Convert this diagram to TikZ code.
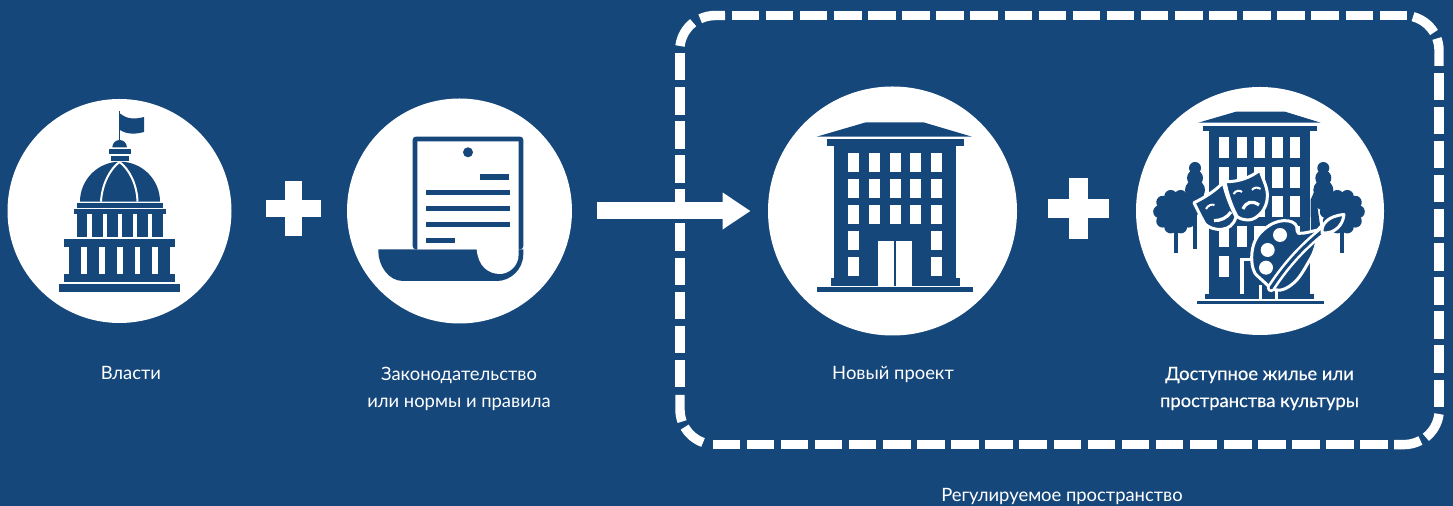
\documentclass[tikz,border=0pt]{standalone}
\usepackage{fontspec}
\setmainfont{Lato}
\usetikzlibrary{arrows.meta}
\definecolor{navy}{HTML}{15477B}

\tikzset{
  disc/.style={circle,fill=white,inner sep=0pt,minimum size=#1},
  lbl/.style={text=white,align=center,font=\fontsize{9.2}{13.5}\selectfont},
  lblb/.style={lbl,font=\fontsize{9.2}{13.5}\selectfont\addfontfeature{FakeBold=0.4}},
  dashline/.style={draw=white,line width=4.7pt},
  dashrun/.style={dashline,dash pattern=on 13.75pt off 3.3pt},
  bigarrow/.style={draw=white,line width=8.5pt,-{Triangle[length=14pt,width=17.5pt]}},
  halo/.style={fill=navy,draw=white,line width=1.5pt,line join=round}
}
\newcommand{\plusmark}[4]{%
  \fill[white] (#1-#3,#2-#4) rectangle (#1+#3,#2+#4);
  \fill[white] (#1-#4,#2-#3) rectangle (#1+#4,#2+#3);}
\newcommand{\roundtree}[2]{%
  \fill[navy] (#1-2,#2+15) rectangle (#1+2,#2+41);
  \fill[navy] (#1,#2) circle (16);
  \foreach \a in {0,36,...,324}
    \fill[navy] ([shift={(\a:16)}]#1,#2) circle (6.5);}
\newcommand{\cypress}[2]{%
  \fill[navy] (#1,#2) circle (6) (#1,#2+10) circle (8) (#1,#2+22) circle (10) (#1,#2+32) circle (10);}

\begin{document}
\begin{tikzpicture}
  [x=.5pt,y=-.5pt]
  \useasboundingbox (0,0) rectangle (1453,506);
  \fill[navy] (0,0) rectangle (1453,506);

  \node[disc=112pt] (gov) at (119.5,211) {};
  \node[disc=112.5pt] (law) at (459.5,211) {};
  \node[disc=124.5pt] (proj) at (892.5,211) {};
  \node[disc=124pt] (homes) at (1260,211) {};

  \node[lbl] (govtxt) at (131,373) {Власти};
  \node[lbl] (lawtxt) at (459,388.5) {Законодательство\\или нормы и правила};
  \node[lbl] (projtxt) at (893,374.5) {Новый проект};
  \node[lblb] (homestxt) at (1259.5,388.5) {Доступное жилье или\\пространства культуры};
  \node[lbl] (zonetxt) at (1062,496) {Регулируемое пространство};

  \plusmark{293.2}{208.8}{27.5}{8.35}
  \plusmark{1078.5}{208.5}{30.2}{9.35}

  % dashed frame
  \draw[dashrun] (731.7,15.5) -- (1407.5,15.5);
  \draw[dashrun] (1439,72.7) -- (1439,407.4);
  \draw[dashrun] (712.5,444.6) -- (1387.5,444.6);
  \draw[dashrun] (680,53) -- (680,387.4);
  \draw[dashline] (680,46) arc[start angle=187,end angle=232,radius=35];
  \draw[dashline] (700.2,18.8) arc[start angle=245,end angle=270,radius=35] -- (725,15.5);
  \draw[dashline] (1413,16.7) arc[start angle=285,end angle=329,radius=35];
  \draw[dashline] (1436.9,38.5) arc[start angle=340,end angle=360,radius=35] -- (1439,66);
  \draw[dashline] (1439,414) arc[start angle=7,end angle=52,radius=35];
  \draw[dashline] (1420.4,440.5) arc[start angle=62,end angle=90,radius=35] -- (1394,444.6);
  \draw[dashline] (680,395) -- (680,409.6) arc[start angle=180,end angle=160,radius=35];
  \draw[dashline] (684.7,427.1) arc[start angle=150,end angle=110,radius=35];

  \draw[bigarrow,shorten <=12.5pt,shorten >=8.5pt] (law) -- (proj);

  % capitol
  \fill[navy] (59,284.3) rectangle (180.3,291.7);
  \fill[navy] (64,239) rectangle (175.3,247.3);
  \fill[navy] (64,273.7) rectangle (175.3,282);
  \fill[navy] (69.3,247) rectangle (170.3,274);
  \foreach \x in {81.3,99,117,134.7,152.3}
    \fill[white] (\x,247.3) rectangle (\x+5.7,273.7);
  \fill[navy] (77.3,214) rectangle (162.7,237);
  \foreach \x in {87.3,102.5,117.7,132.7,147.7}
    \fill[white] (\x,214.3) rectangle (\x+4.5,237);
  \fill[navy] (74,209.3) rectangle (165.7,214.3);
  \fill[navy] (77.3,203) rectangle (162.7,208);
  \fill[navy] (80,201.7) arc[start angle=180,end angle=360,radius=40] -- cycle;
  \draw[white,line width=1pt] (101,201.7) .. controls (102,184) and (110,169) .. (119.5,162)
    .. controls (129,169) and (137,184) .. (137.5,201.7);
  \fill[navy] (111,155.7) rectangle (129,161);
  \fill[navy] (109.3,149.3) rectangle (130.7,153.7);
  \fill[navy] (112.3,147.3) arc[start angle=180,end angle=360,radius=7.3] -- cycle;
  \draw[navy,line width=.7pt] (119.5,111) -- (119.5,141);
  \fill[navy] (120,113.5) .. controls (128,120) and (136,119) .. (144,117) -- (144,132)
    .. controls (136,134) and (128,135) .. (120,130) -- cycle;

  % scroll
  \fill[navy,rounded corners=1.5pt] (412.7,249.3) -- (412.7,136.7) -- (523.3,136.7) -- (523.3,249.3) -- cycle;
  \fill[navy] (378.3,249.3) -- (523.3,249.3) -- (523.3,254) .. controls (523.3,270) and (510,281) .. (497,281)
    -- (403,281) .. controls (388,281) and (378.3,265) .. (378.3,251) -- cycle;
  \fill[white] (417.3,249.3) -- (417.3,141.3) -- (518.7,141.3) -- (518.7,254)
    .. controls (518.7,267) and (508,274) .. (500,274) .. controls (488,274) and (478,266) .. (476.7,249.3) -- cycle;
  \fill[navy] (468,152.3) circle (5);
  \fill[navy] (480,174.3) rectangle (509,179.7);
  \foreach \y in {190,206,221.7}
    \fill[navy] (426,\y) rectangle (510,\y+5.3);
  \fill[navy] (426,237.7) rectangle (455,243);

  % tower
  \fill[navy] (816.7,136.7) -- (866,122.3) -- (923.3,122.3) -- (972,136.7) -- cycle;
  \fill[navy] (826.7,139.3) rectangle (963.7,146);
  \fill[navy] (834,146) rectangle (956,278.3);
  \fill[navy] (830.7,278.3) rectangle (960,285.7);
  \fill[navy] (816.7,287.3) rectangle (973.3,292);
  \foreach \x in {848.3,869,889.7,910.3,931}
    \foreach \y in {153,179,205}
      \fill[white] (\x,\y) rectangle (\x+11,\y+18.7);
  \foreach \x in {848.3,931}
    \foreach \y in {231.3,257.3}
      \fill[white] (\x,\y) rectangle (\x+11,\y+18.7);
  \fill[white] (878.3,241) rectangle (894,287.3);
  \fill[white] (896.3,241) rectangle (912,287.3);

  % tower with trees, masks and palette
  \fill[navy] (1198.3,122.7) -- (1236,111.7) -- (1285,111.7) -- (1320.7,122.7) -- cycle;
  \fill[navy] (1202.7,125.7) rectangle (1316.7,131);
  \fill[navy] (1209.3,131) rectangle (1310,294);
  \fill[navy] (1205.3,294) rectangle (1314,299.3);
  \fill[navy] (1197,301.3) rectangle (1324,304);
  \foreach \x in {1219,1236.7,1254.3,1272.3,1290}
    \foreach \y in {136.7,166.7,196,226}
      \fill[white] (\x,\y) rectangle (\x+10.3,\y+21.5);
  \fill[white] (1219,255.7) rectangle (1229.3,277);
  \fill[white] (1240,257.7) rectangle (1244.3,294);
  \fill[white] (1240,257.7) rectangle (1251,261);
  \fill[white] (1259,285) rectangle (1262,299);
  \fill[white] (1275,290) rectangle (1277.5,299);
  \cypress{1195}{168}
  \cypress{1323.3}{168}
  \fill[navy] (1192.5,215) rectangle (1196.7,248.7);
  \fill[navy] (1310.5,200) -- (1315,190) -- (1320,225) -- (1311,235) -- cycle;
  \roundtree{1175.7}{211.7}
  \roundtree{1342.3}{211.7}
  \draw[halo] (1194,202.7) .. controls (1206,197) and (1216,190) .. (1223.3,182.5)
    .. controls (1226,195) and (1231,207) .. (1236,216.7)
    .. controls (1234,225) and (1228,229) .. (1221.7,229.3)
    .. controls (1214,230) and (1208,227) .. (1205,224) .. controls (1201,217) and (1197,209) .. (1194,202.7) -- cycle;
  \draw[white,line width=1pt] (1206,209) .. controls (1208,205) and (1212,204) .. (1214.5,205);
  \draw[white,line width=1.6pt] (1214,220.5) .. controls (1220,221) and (1227,218) .. (1231,212);
  \draw[halo] (1225,181.7) .. controls (1238,182) and (1250,178) .. (1260,170)
    .. controls (1263,180) and (1268,188) .. (1267.3,196.7)
    .. controls (1267,204) and (1265,207) .. (1262.7,211)
    .. controls (1258,217) and (1253,220) .. (1248.3,220)
    .. controls (1243,220) and (1238,218) .. (1236.7,216)
    .. controls (1231,205) and (1227,193) .. (1225,181.7) -- cycle;
  \draw[white,line width=1pt] (1233.5,194) .. controls (1236,190) and (1240,190) .. (1242,192);
  \draw[white,line width=1pt] (1252,190) .. controls (1254,187) and (1258,187) .. (1260.5,189);
  \draw[white,line width=1.6pt] (1243,209) .. controls (1246,202) and (1252,200) .. (1259,205);
  \draw[halo] (1251.7,256.7) .. controls (1252,245) and (1256,236) .. (1263.3,230)
    .. controls (1270,224) and (1277,221) .. (1283.3,220.7)
    .. controls (1290,220) and (1296,223) .. (1296.7,226.7)
    .. controls (1298,230) and (1296,232) .. (1298.3,233.3)
    .. controls (1304,234) and (1312,231) .. (1318.3,230)
    .. controls (1318,240) and (1315,250) .. (1311.7,256.7)
    .. controls (1305,268) and (1300,278) .. (1293.3,283.3)
    .. controls (1288,288) and (1282,291) .. (1276.7,290)
    .. controls (1272,290) and (1270,288) .. (1267.3,285)
    .. controls (1260,278) and (1256,275) .. (1255,273.3)
    .. controls (1252,268) and (1251.7,262) .. (1251.7,256.7) -- cycle;
  \foreach \x/\y in {1280/235,1267.7/250,1266/267.7}
    \fill[white] (\x,\y) circle (7);
  \draw[white,line width=4.2pt,line cap=round] (1271,288) .. controls (1288,262) and (1305,245) .. (1325,229);
  \draw[navy,line width=1.6pt,line cap=round] (1271,288) .. controls (1288,262) and (1305,245) .. (1325,229);
  \draw[halo] (1322,233) .. controls (1321,224) and (1328,216) .. (1344,214.5)
    .. controls (1343,225) and (1335,234) .. (1322,233) -- cycle;

\end{tikzpicture}
\end{document}
